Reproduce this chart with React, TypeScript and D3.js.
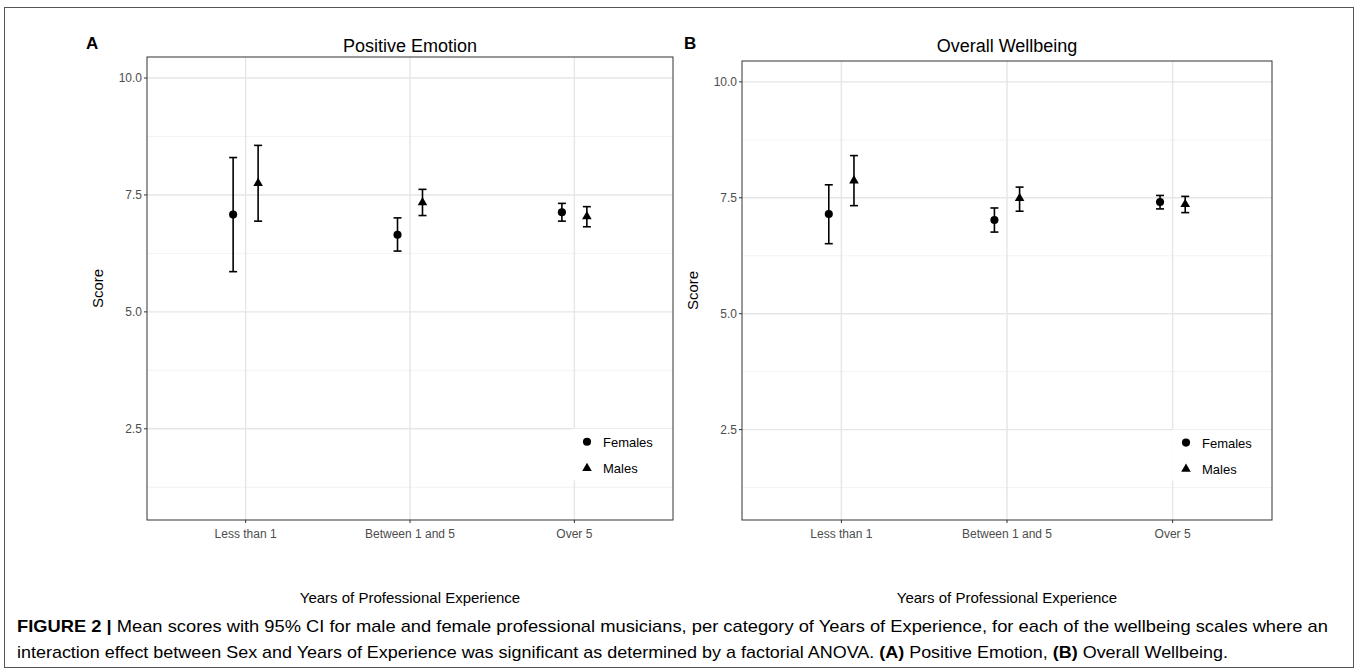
import * as d3 from 'd3'

const categories = ['Less than 1', 'Between 1 and 5', 'Over 5'];
const groups = ['Females', 'Males'];
const yTicks = [2.5, 5.0, 7.5, 10.0];
const yMinor = [1.25, 3.75, 6.25, 8.75];

// Positive Emotion: mean, lower CI, upper CI per category
const peFemaleMean = [7.08, 6.65, 7.13];
const peFemaleLow = [5.86, 6.30, 6.94];
const peFemaleHigh = [8.30, 7.01, 7.32];
const peMaleMean = [7.75, 7.34, 7.04];
const peMaleLow = [6.94, 7.06, 6.82];
const peMaleHigh = [8.56, 7.62, 7.25];

// Overall Wellbeing
const owFemaleMean = [7.15, 7.02, 7.41];
const owFemaleLow = [6.51, 6.76, 7.26];
const owFemaleHigh = [7.78, 7.28, 7.55];
const owMaleMean = [7.87, 7.49, 7.36];
const owMaleLow = [7.33, 7.21, 7.18];
const owMaleHigh = [8.41, 7.73, 7.53];

const font = 'Liberation Sans, Arial, Helvetica, sans-serif';

type Row = { cat: string, group: string, mean: number, low: number, high: number };

function rows(fm: number[], fl: number[], fh: number[], mm: number[], ml: number[], mh: number[]): Row[] {
  const out: Row[] = [];
  categories.forEach((c, i) => {
    out.push({ cat: c, group: groups[0], mean: fm[i], low: fl[i], high: fh[i] });
    out.push({ cat: c, group: groups[1], mean: mm[i], low: ml[i], high: mh[i] });
  });
  return out;
}

const circlePath = d3.symbol().type(d3.symbolCircle).size(52)() as string;
const trianglePath = d3.symbol().type(d3.symbolTriangle).size(40)() as string;

function Panel({ data, letter, title, left, right, top, bottom, ox }:
  { data: Row[], letter: string, title: string, left: number, right: number, top: number, bottom: number, ox: number }) {
  const x = d3.scalePoint<string>().domain(categories).range([left, right]).padding(0.6);
  const y = d3.scaleLinear().domain([0.55, 10.45]).range([bottom, top]);
  const dodge = x.step() * 0.076;
  const cx = (d: Row) => (x(d.cat) as number) + (d.group === 'Females' ? -dodge : dodge);
  const cap = 4;
  const midX = (left + right) / 2;
  const legX = right - 86;
  const legY = y(2.5);

  return (
    <g>
      <text x={ox} y={49} fontFamily={font} fontWeight="bold" fontSize={17}>{letter}</text>
      <text x={midX} y={52} fontFamily={font} fontSize={18} textAnchor="middle">{title}</text>
      {yMinor.map(t => (
        <line key={'mi' + t} x1={left} x2={right} y1={y(t)} y2={y(t)} stroke="#f0f0f0" strokeWidth={0.8} />
      ))}
      {yTicks.map(t => (
        <line key={'ma' + t} x1={left} x2={right} y1={y(t)} y2={y(t)} stroke="#e6e6e6" strokeWidth={1.4} />
      ))}
      {categories.map(c => (
        <line key={'v' + c} x1={x(c)} x2={x(c)} y1={top} y2={bottom} stroke="#e6e6e6" strokeWidth={1.4} />
      ))}
      {/* legend box */}
      <rect x={legX - 14} y={legY} width={right - legX + 13} height={y(1.4) - legY} fill="white" />
      {data.map((d, i) => (
        <g key={i} stroke="black" strokeWidth={1.6}>
          <line x1={cx(d)} x2={cx(d)} y1={y(d.low)} y2={y(d.high)} />
          <line x1={cx(d) - cap} x2={cx(d) + cap} y1={y(d.low)} y2={y(d.low)} />
          <line x1={cx(d) - cap} x2={cx(d) + cap} y1={y(d.high)} y2={y(d.high)} />
        </g>
      ))}
      {data.map((d, i) => (
        <path key={'p' + i} d={d.group === 'Females' ? circlePath : trianglePath}
          transform={`translate(${cx(d)},${y(d.mean)})`} fill="black" />
      ))}
      {groups.map((g, i) => (
        <g key={g} transform={`translate(${legX},${legY + 13 + i * 26.5})`}>
          <path d={i === 0 ? circlePath : trianglePath} fill="black" />
          <text x={16} y={5} fontFamily={font} fontSize={13}>{g}</text>
        </g>
      ))}
      <rect x={left} y={top} width={right - left} height={bottom - top} fill="none" stroke="#333" strokeWidth={1} />
      {yTicks.map(t => (
        <g key={'yt' + t}>
          <line x1={left - 3} x2={left} y1={y(t)} y2={y(t)} stroke="#333" strokeWidth={1} />
          <text x={left - 5} y={y(t) + 4} textAnchor="end" fontFamily={font} fontSize={12} fill="#4d4d4d">{t.toFixed(1)}</text>
        </g>
      ))}
      {categories.map(c => (
        <g key={'xt' + c}>
          <line x1={x(c)} x2={x(c)} y1={bottom} y2={bottom + 3} stroke="#333" strokeWidth={1} />
          <text x={x(c)} y={bottom + 18} textAnchor="middle" fontFamily={font} fontSize={12} fill="#4d4d4d">{c}</text>
        </g>
      ))}
      <text transform={`translate(${left - 44},${(top + bottom) / 2}) rotate(-90)`} textAnchor="middle"
        fontFamily={font} fontSize={15}>Score</text>
      <text x={midX} y={bottom + 83} textAnchor="middle" fontFamily={font} fontSize={15}>Years of Professional Experience</text>
    </g>
  );
}

export default function App() {
  const pe = rows(peFemaleMean, peFemaleLow, peFemaleHigh, peMaleMean, peMaleLow, peMaleHigh);
  const ow = rows(owFemaleMean, owFemaleLow, owFemaleHigh, owMaleMean, owMaleLow, owMaleHigh);
  return (
    <svg width={1358} height={672} style={{ position: 'absolute', left: 0, top: 0, background: 'white' }}>
      <rect x={4.5} y={7.5} width={1349} height={660} fill="none" stroke="#555" strokeWidth={1} />
      <Panel data={pe} letter="A" title="Positive Emotion" left={147} right={673} top={57} bottom={520} ox={86} />
      <Panel data={ow} letter="B" title="Overall Wellbeing" left={742} right={1272} top={61} bottom={520} ox={684} />
      <text x={17} y={632} fontFamily={font} fontSize={17} textLength={1311} lengthAdjust="spacingAndGlyphs">
        <tspan fontWeight="bold">FIGURE 2 |</tspan> Mean scores with 95% CI for male and female professional musicians, per category of Years of Experience, for each of the wellbeing scales where an
      </text>
      <text x={17} y={658} fontFamily={font} fontSize={17} textLength={1211} lengthAdjust="spacingAndGlyphs">
        interaction effect between Sex and Years of Experience was significant as determined by a factorial ANOVA. <tspan fontWeight="bold">(A)</tspan> Positive Emotion, <tspan fontWeight="bold">(B)</tspan> Overall Wellbeing.
      </text>
    </svg>
  );
}
